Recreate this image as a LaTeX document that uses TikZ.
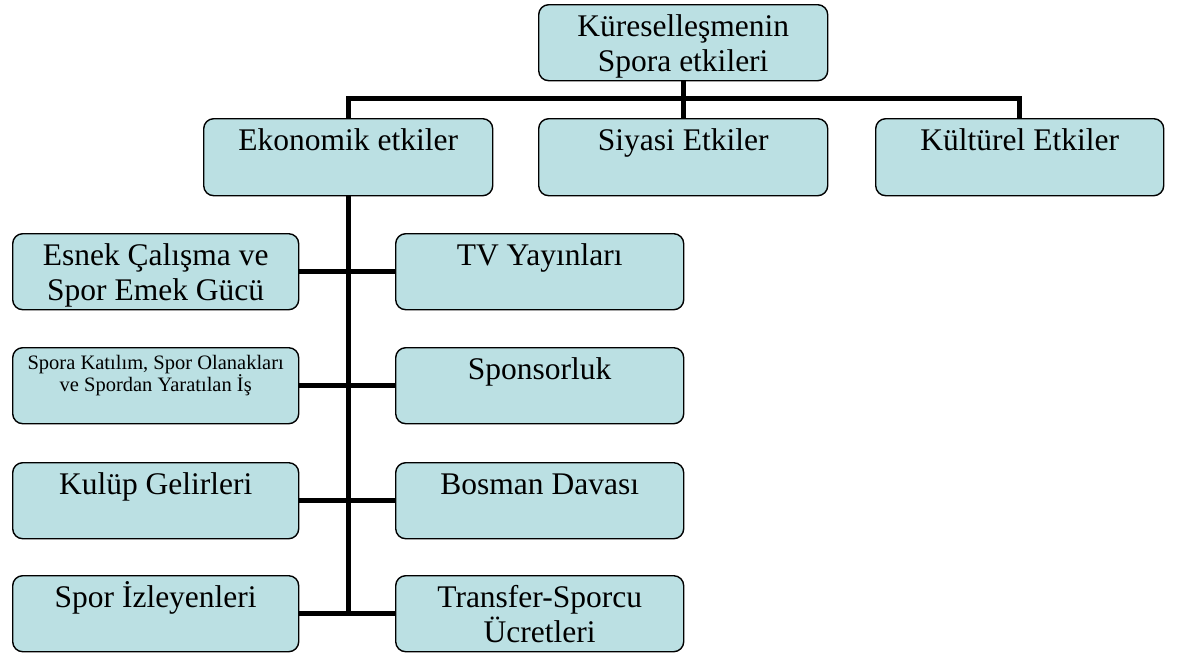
\documentclass[tikz,border=0pt]{standalone}
\usepackage{fontspec}
\setmainfont{Liberation Serif}
\definecolor{boxfill}{RGB}{187,224,227}
\newcommand{\bigtxt}[2]{\parbox[c][#1pt][t]{#2pt}{\centering\fontsize{31.5}{35}\selectfont\rule{0pt}{32pt}}}
\tikzset{
  box/.style={draw=black, line width=1.4pt, fill=boxfill, rounded corners=10pt, inner sep=0pt, anchor=north west},
  conn/.style={draw=black, line width=5pt}
}
\newcommand{\bt}[3]{\parbox[c][#1pt][t]{#2pt}{\centering\fontsize{31.5}{35}\selectfont\rule{0pt}{32pt}#3}}
\newcommand{\st}[3]{\parbox[c][#1pt][t]{#2pt}{\centering\fontsize{20.5}{19}\selectfont\rule{0pt}{22pt}#3}}
\begin{document}
\begin{tikzpicture}[x=1pt,y=-1pt]
\useasboundingbox (0,0) rectangle (1180,653);
% connectors (drawn first, under boxes)
\node[box] (top) at (538,4) {\bt{76}{289}{Küreselleşmenin\\Spora etkileri}};
\node[box] (eko) at (203,118) {\bt{77}{289}{Ekonomik etkiler}};
\node[box] (sia) at (538,118) {\bt{77}{289}{Siyasi Etkiler}};
\node[box] (kul) at (875,118) {\bt{77}{288}{Kültürel Etkiler}};
\node[box] (l1) at (12,233) {\bt{76}{286}{Esnek Çalışma ve\\Spor Emek Gücü}};
\node[box] (r1) at (395,233) {\bt{76}{288}{TV Yayınları}};
\node[box] (l2) at (12,347) {\st{76}{286}{Spora Katılım, Spor Olanakları\\ve Spordan Yaratılan İş}};
\node[box] (r2) at (395,347) {\bt{76}{288}{Sponsorluk}};
\node[box] (l3) at (12,462) {\bt{76}{286}{Kulüp Gelirleri}};
\node[box] (r3) at (395,462) {\bt{76}{288}{Bosman Davası}};
\node[box] (l4) at (12,575) {\bt{76}{286}{Spor İzleyenleri}};
\node[box] (r4) at (395,575) {\bt{76}{288}{Transfer-Sporcu\\Ücretleri}};
\coordinate (tend) at (eko.south |- l4.east);
\begin{scope}[on background layer/.style={}]
\draw[conn] (top.south) -- (sia.north);
\draw[conn] (eko.north) -- ++(0,-20) -| (kul.north);
\draw[conn] (eko.south) -- (tend);
\draw[conn] (l1.east) -- (r1.west);
\draw[conn] (l2.east) -- (r2.west);
\draw[conn] (l3.east) -- (r3.west);
\draw[conn] (l4.east) -- (r4.west);
\end{scope}
\end{tikzpicture}
\end{document}
